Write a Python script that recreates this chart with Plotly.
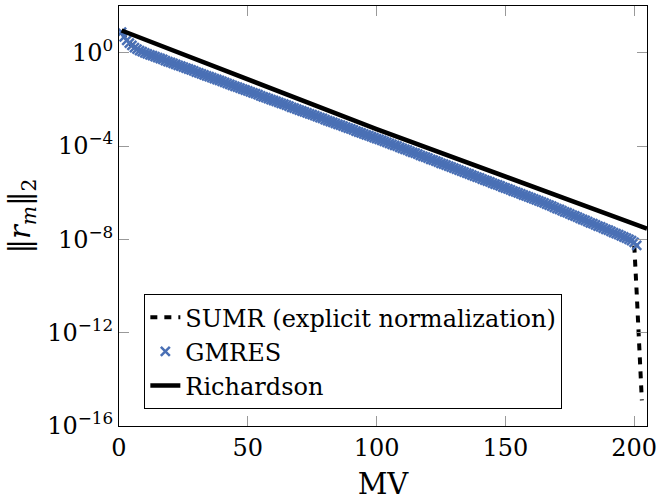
import plotly.graph_objects as go

# ---- data (log10 of residual norm) ----
gmres_mv = list(range(1, 202))
gmres_log10 = [
    0.88, 0.68, 0.53, 0.41, 0.31, 0.22, 0.15, 0.09, 0.04, -0.01, -0.05,
    -0.09, -0.13, -0.17, -0.21, -0.25, -0.29, -0.34, -0.38, -0.42, -0.46,
    -0.50, -0.54, -0.58, -0.62, -0.66, -0.70, -0.74, -0.78, -0.83, -0.87,
    -0.91, -0.95, -0.99, -1.03, -1.07, -1.11, -1.15, -1.19, -1.23, -1.27,
    -1.32, -1.36, -1.40, -1.44, -1.48, -1.52, -1.56, -1.60, -1.64, -1.68,
    -1.72, -1.76, -1.80, -1.85, -1.89, -1.93, -1.97, -2.01, -2.05, -2.09,
    -2.13, -2.17, -2.21, -2.25, -2.29, -2.34, -2.38, -2.42, -2.46, -2.50,
    -2.54, -2.58, -2.62, -2.66, -2.70, -2.74, -2.78, -2.82, -2.87, -2.91,
    -2.95, -2.99, -3.03, -3.07, -3.11, -3.15, -3.19, -3.23, -3.27, -3.31,
    -3.36, -3.40, -3.44, -3.48, -3.52, -3.56, -3.60, -3.64, -3.68, -3.72,
    -3.76, -3.80,
    -3.84, -3.89, -3.93, -3.97, -4.01, -4.06, -4.10, -4.14, -4.18, -4.23,
    -4.27, -4.31, -4.35, -4.40, -4.44, -4.48, -4.52, -4.57, -4.61, -4.65,
    -4.69, -4.74, -4.78, -4.82, -4.86, -4.91, -4.95, -4.99, -5.03, -5.08,
    -5.12, -5.16, -5.20, -5.25, -5.29, -5.33, -5.37, -5.42, -5.46, -5.50,
    -5.54, -5.59, -5.63, -5.67, -5.71, -5.76, -5.80, -5.84, -5.88, -5.93,
    -5.97, -6.01, -6.05, -6.10, -6.14, -6.18, -6.22, -6.27, -6.31, -6.35,
    -6.39, -6.44,
    -6.49, -6.53, -6.58, -6.63, -6.68, -6.72, -6.77, -6.82, -6.86, -6.91,
    -6.96, -7.00, -7.05, -7.10, -7.15, -7.19, -7.24, -7.29, -7.33, -7.38,
    -7.43, -7.47, -7.52, -7.57, -7.61, -7.66, -7.71, -7.76, -7.80, -7.85,
    -7.90,
    -7.95, -8.00, -8.06, -8.13, -8.26,
]

# SUMR follows GMRES, then drops sharply at the end
sumr_tail_mv = [201, 202, 203]
sumr_tail_log10 = [-10.3, -12.6, -14.9]
sumr_mv = gmres_mv[:200] + sumr_tail_mv
sumr_log10 = gmres_log10[:200] + sumr_tail_log10

rich_mv = [1, 100, 205]
rich_log10 = [0.95, -3.28, -7.54]

x_ticks = [0, 50, 100, 150, 200]
y_tick_exps = [0, -4, -8, -12, -16]
y_tick_labels = ["10<sup>0</sup>", "10<sup>−4</sup>", "10<sup>−8</sup>",
                 "10<sup>−12</sup>", "10<sup>−16</sup>"]

FONT = "DejaVu Serif"
BLUE = "#4a70b5"

fig = go.Figure()
fig.add_trace(go.Scatter(
    x=sumr_mv, y=[10 ** v for v in sumr_log10], mode="lines",
    name="SUMR (explicit normalization)",
    line=dict(color="black", width=4, dash="7px,7px"),
))
fig.add_trace(go.Scatter(
    x=gmres_mv, y=[10 ** v for v in gmres_log10], mode="markers",
    name="GMRES",
    marker=dict(symbol="x-thin", size=9, color=BLUE,
                line=dict(color=BLUE, width=2.5)),
))
fig.add_trace(go.Scatter(
    x=rich_mv, y=[10 ** v for v in rich_log10], mode="lines",
    name="Richardson",
    line=dict(color="black", width=4.5),
))

fig.update_layout(
    width=662, height=501,
    margin=dict(l=119, r=7, t=5, b=75),
    paper_bgcolor="white", plot_bgcolor="white",
    font=dict(family=FONT, size=24, color="black"),
    showlegend=True,
    legend=dict(
        x=0.048, y=0.314, xanchor="left", yanchor="top",
        bordercolor="black", borderwidth=1, bgcolor="white",
        font=dict(family=FONT, size=24), tracegroupgap=0,
    ),
    xaxis=dict(
        range=[0, 205], tickvals=x_ticks,
        ticks="inside", ticklen=10, tickcolor="#999", tickwidth=1,
        showline=True, linecolor="black", linewidth=1, mirror="ticks",
        showgrid=False, zeroline=False, ticklabeloverflow="allow",
        title=dict(text="MV", standoff=12),
    ),
    yaxis=dict(
        type="log", range=[-16, 2],
        tickvals=[10 ** e for e in y_tick_exps], ticktext=y_tick_labels,
        ticks="inside", ticklen=10, tickcolor="#999", tickwidth=1,
        showline=True, linecolor="black", linewidth=1, mirror="ticks",
        showgrid=False, zeroline=False,
        title=dict(text="‖<i>r</i><sub><i>m</i></sub>‖<sub>2</sub>", standoff=8),
    ),
)

fig.write_html("out.html")
